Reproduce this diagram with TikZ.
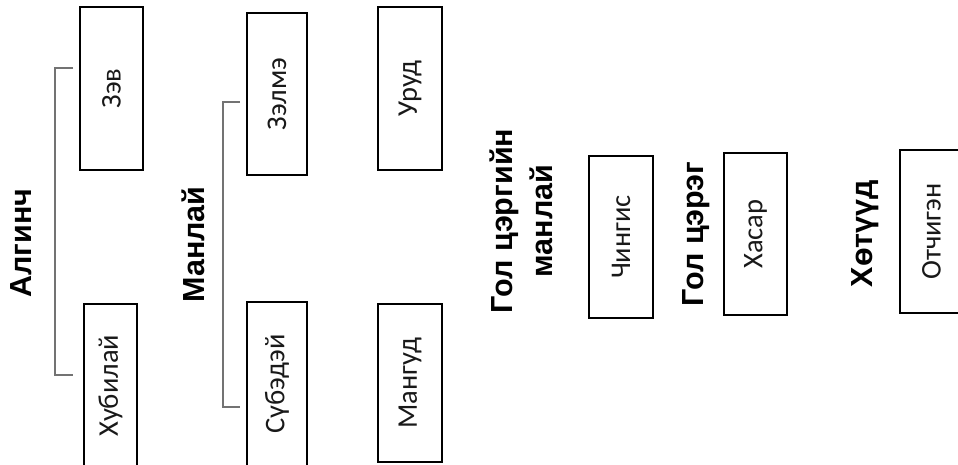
\documentclass[tikz,border=0pt]{standalone}
\usepackage{fontspec}
\setmainfont{Carlito}
\newfontfamily\headfont{Liberation Sans}
\begin{document}
\begin{tikzpicture}[x=1pt,y=-1pt,
  box/.style={draw=black,line width=2.4pt,rotate=90,inner sep=0pt,
    font=\fontsize{28.5}{30}\selectfont,text=black!90},
  head/.style={rotate=90,inner sep=0pt,align=center,
    font=\headfont\bfseries\fontsize{30.5}{40}\selectfont},
  bracket/.style={draw=gray!90!black,line width=1.8pt}]
\useasboundingbox (0,0) rectangle (958,464);
% boxes
\node[box,minimum width=163pt,minimum height=63pt] (zev) at (111.5,88.5) {Зэв};
\node[box,minimum width=163pt,minimum height=53pt] (khub) at (110.5,385.5) {Хубилай};
\node[box,minimum width=162pt,minimum height=60pt] (zelme) at (277,94) {Зэлмэ};
\node[box,minimum width=164pt,minimum height=60pt] (sube) at (277,384) {Сүбэдэй};
\node[box,minimum width=163pt,minimum height=64pt] (urud) at (410,88.5) {Уруд};
\node[box,minimum width=158pt,minimum height=64pt] (mangud) at (410,383) {Мангуд};
\node[box,minimum width=162pt,minimum height=64pt] (chingis) at (621,237) {Чингис};
\node[box,minimum width=162pt,minimum height=63pt] (khasar) at (755.5,234) {Хасар};
\node[box,minimum width=163pt,minimum height=63pt] (otch) at (931.5,231.5) {Отчигэн};
% headings
\node[head] (algin) at (21.5,243) {Алгинч};
\node[head] (manlai) at (193.5,244.5) {Манлай};
\node[head] (golm) at (521,221) {Гол цэргийн\\манлай};
\node[head] (golts) at (696.5,234) {Гол цэрэг};
\node[head] (khet) at (865,233.5) {Хөтүүд};
% brackets
\coordinate (a1) at (73,68);
\coordinate (a2) at (73,375);
\coordinate (m1) at (240,102);
\coordinate (m2) at (240,407);
\draw[bracket] (a1) -- (55,68) -- (55,375) -- (a2);
\draw[bracket] (m1) -- (223,102) -- (223,407) -- (m2);
\end{tikzpicture}
\end{document}
